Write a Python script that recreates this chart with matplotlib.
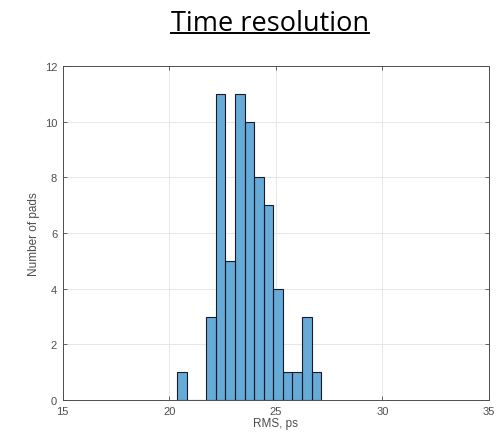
import matplotlib
matplotlib.use("Agg")
import matplotlib.pyplot as plt
from matplotlib.lines import Line2D
import numpy as np

# histogram of per-pad time resolution (bin width ~0.45 ps)
bin_start = 20.38
bin_width = 0.45
counts = [1, 0, 0, 3, 11, 5, 11, 10, 8, 7, 4, 1, 1, 3, 1]
edges = bin_start + bin_width * np.arange(len(counts) + 1)

xticks = [15, 20, 25, 30, 35]
yticks = [0, 2, 4, 6, 8, 10, 12]

plt.rcParams['font.family'] = ['Liberation Sans', 'DejaVu Sans']
grey = '#4d4d4d'

fig = plt.figure(figsize=(4.97, 4.39), dpi=100)
ax = fig.add_axes([62.7 / 497, 1 - 401 / 439, (489 - 62.7) / 497, (401 - 67) / 439])

ax.stairs(counts, edges, fill=True, facecolor='#66AAD7', edgecolor='none')
ax.bar(edges[:-1], counts, width=bin_width, align='edge',
       facecolor='none', edgecolor='#1a1a2a', linewidth=0.8)

ax.set_xlim(15, 35)
ax.set_ylim(0, 12)
ax.set_xticks(xticks)
ax.set_yticks(yticks)
ax.grid(True, color='#e6e6e6', linewidth=0.7)
ax.set_axisbelow(True)
ax.tick_params(direction='in', length=3, width=0.6, labelsize=8, pad=4,
               colors=grey, top=True, right=True, labeltop=False, labelright=False)
for s in ax.spines.values():
    s.set_color(grey)
    s.set_linewidth(0.7)

ax.set_xlabel('RMS, ps', fontsize=8.5, color=grey, labelpad=1)
ax.set_ylabel('Number of pads', fontsize=8.5, color=grey, labelpad=3)

# underlined slide title
title = fig.text(270 / 497, 1 - 31 / 439, 'Time resolution', ha='center', va='baseline',
                 fontsize=19.5, family=['Open Sans', 'DejaVu Sans'], color='black')
fig.canvas.draw()
bb = title.get_window_extent().transformed(fig.transFigure.inverted())
uy = 1 - 33.5 / 439
fig.add_artist(Line2D([bb.x0, bb.x1], [uy, uy], transform=fig.transFigure,
                      color='black', linewidth=1.4))

fig.savefig('out.png', dpi=100)
